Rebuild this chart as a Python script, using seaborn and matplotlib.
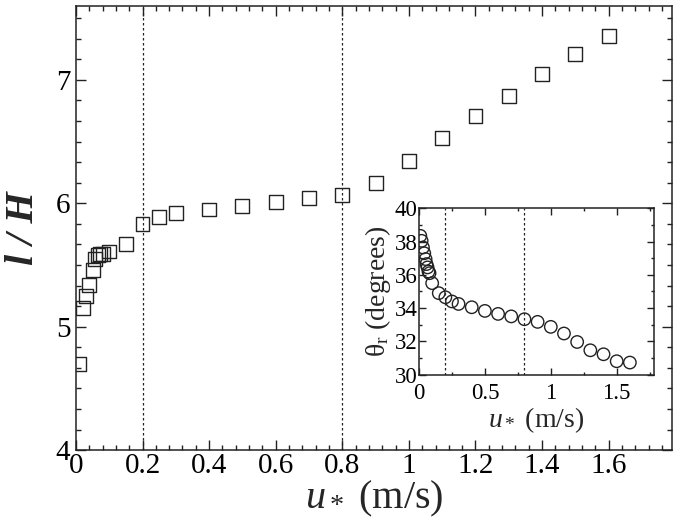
import matplotlib
matplotlib.use("Agg")
import matplotlib.pyplot as plt
import seaborn as sns
from matplotlib.ticker import MultipleLocator, AutoMinorLocator, FormatStrFormatter, FuncFormatter

# --- data ---
u_star = [0.01, 0.02, 0.03, 0.04, 0.05, 0.057, 0.065, 0.072, 0.08, 0.10,
          0.15, 0.20, 0.25, 0.30, 0.40, 0.50, 0.60, 0.70, 0.80, 0.90,
          1.00, 1.10, 1.20, 1.30, 1.40, 1.50, 1.60]
l_over_h = [4.70, 5.155, 5.25, 5.34, 5.46, 5.55, 5.58, 5.59, 5.59, 5.61,
            5.67, 5.83, 5.89, 5.92, 5.95, 5.98, 6.01, 6.04, 6.07, 6.165,
            6.34, 6.53, 6.71, 6.87, 7.05, 7.21, 7.355]
theta_r = [38.35, 38.05, 37.65, 37.3, 36.95, 36.65, 36.45, 36.2, 36.1, 35.5,
           34.9, 34.65, 34.4, 34.25, 34.05, 33.83, 33.65, 33.5, 33.33, 33.17,
           32.87, 32.47, 31.96, 31.46, 31.22, 30.8, 30.72]
regime_limits = [0.2, 0.8]

sns.set_theme(style="ticks")
plt.rcParams["font.family"] = ["Liberation Serif", "DejaVu Serif"]
plt.rcParams["mathtext.fontset"] = "custom"
plt.rcParams["mathtext.rm"] = "Liberation Serif"
plt.rcParams["mathtext.it"] = "Liberation Serif:italic"
plt.rcParams["mathtext.bf"] = "Liberation Serif:bold"

INK = "#222222"


def style_axes(ax, major_len, minor_len, labelsize):
    for sp in ax.spines.values():
        sp.set_visible(True)
        sp.set_linewidth(1.1)
        sp.set_color(INK)
    ax.tick_params(which="both", direction="in", top=True, right=True,
                   color=INK, width=1.0, labelsize=labelsize, labelcolor="black")
    ax.tick_params(which="major", length=major_len, pad=4)
    ax.tick_params(which="minor", length=minor_len)


fig = plt.figure(figsize=(6.78, 5.29), dpi=100)

# main panel
ax = fig.add_axes([0.112, 0.149, 0.879, 0.840])
for xv in regime_limits:
    ax.axvline(xv, color=INK, lw=0.9, ls=(0, (2, 2)), zorder=1)
sns.scatterplot(x=u_star, y=l_over_h, ax=ax, marker="s", s=100,
                facecolor="none", edgecolor=INK, linewidth=1.0, zorder=3)
ax.set_xlim(0, 1.79)
ax.set_ylim(4, 7.6)
ax.xaxis.set_major_locator(MultipleLocator(0.2))
ax.xaxis.set_minor_locator(MultipleLocator(0.04))
ax.yaxis.set_major_locator(MultipleLocator(1))
ax.yaxis.set_minor_locator(AutoMinorLocator(6))
ax.xaxis.set_major_formatter(FuncFormatter(lambda v, p: f"{v:g}"))
ax.yaxis.set_major_formatter(FormatStrFormatter("%d"))
style_axes(ax, 7, 3.5, 21)
ax.tick_params(axis="x", which="major", pad=2)
ax.set_xlabel("$u_*$ (m/s)", fontsize=29, labelpad=0)
ax.set_ylabel("l / H", fontsize=29, fontweight="bold", fontstyle="italic", labelpad=10)

# inset
ins = fig.add_axes([0.618, 0.292, 0.346, 0.314])
for xv in regime_limits:
    ins.axvline(xv, color=INK, lw=0.9, ls=(0, (2, 2)), zorder=1)
sns.scatterplot(x=u_star, y=theta_r, ax=ins, marker="o", s=80,
                facecolor="none", edgecolor=INK, linewidth=1.0, zorder=3)
ins.set_xlim(0, 1.78)
ins.set_ylim(30, 40)
ins.xaxis.set_major_locator(MultipleLocator(0.5))
ins.xaxis.set_minor_locator(MultipleLocator(0.25))
ins.yaxis.set_major_locator(MultipleLocator(2))
ins.yaxis.set_minor_locator(MultipleLocator(1))
ins.xaxis.set_major_formatter(FuncFormatter(lambda v, p: f"{v:g}"))
style_axes(ins, 5, 2.5, 16.5)
ins.tick_params(axis="y", which="major", pad=1)
ins.tick_params(axis="x", which="major", pad=6)
ins.set_xlabel("$u_*$ (m/s)", fontsize=20, labelpad=1)
ins.set_ylabel("θ$_\\mathrm{r}$ (degrees)", fontsize=20, labelpad=1)

fig.savefig("out.png", dpi=100)
